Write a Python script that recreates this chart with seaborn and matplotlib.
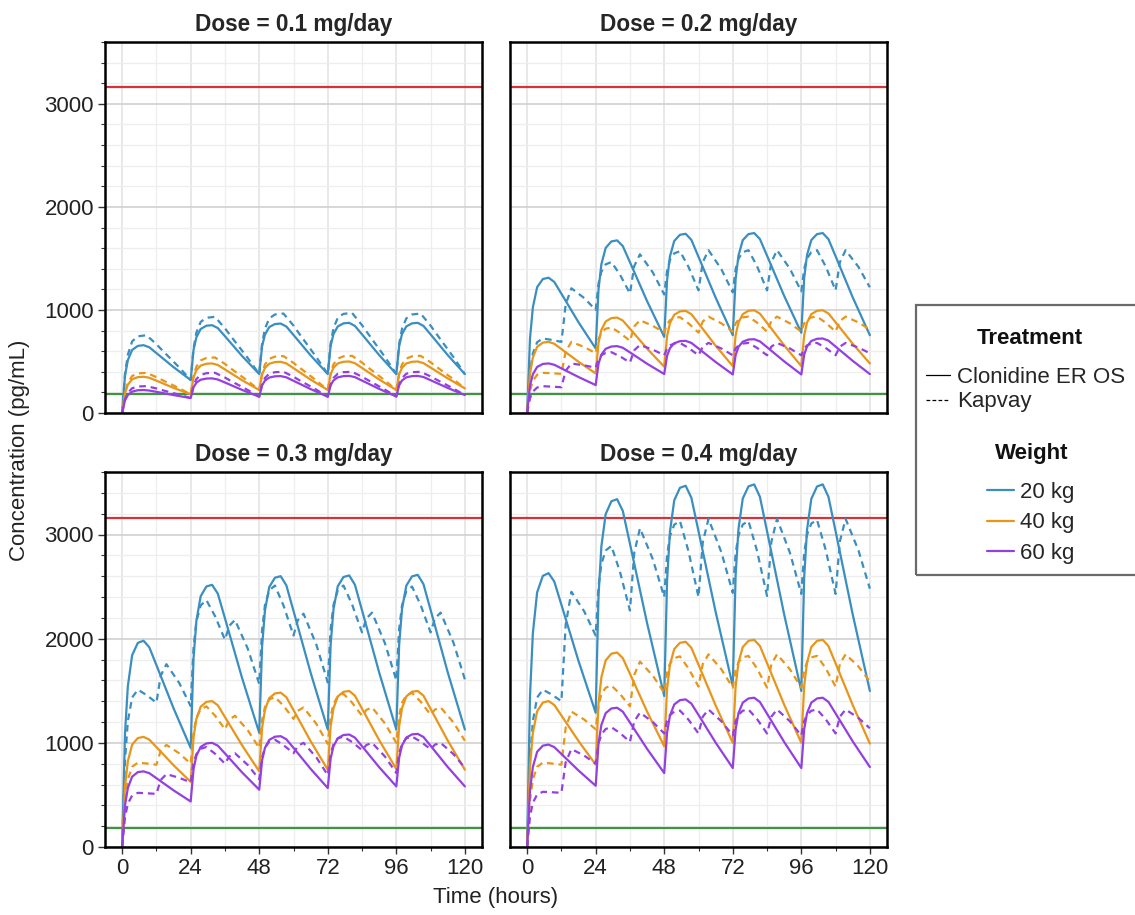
import matplotlib
matplotlib.use("Agg")
import matplotlib.pyplot as plt
from matplotlib.lines import Line2D
from matplotlib.patches import Rectangle
from matplotlib.ticker import MultipleLocator
import pandas as pd
import seaborn as sns

# ---------------- data ----------------
doses = ["0.1", "0.2", "0.3", "0.4"]
weights = ["20 kg", "40 kg", "60 kg"]
treatments = ["Clonidine ER OS", "Kapvay"]
x_ticks = [0, 24, 48, 72, 96, 120]
y_ticks = [0, 1000, 2000, 3000]
upper_limit = 3160
lower_limit = 180

time_er = [0, 1, 2, 3.5, 5.5, 7.5, 9.5, 12.5, 18,
           24, 25, 26, 27.5, 29.5, 31.5, 33.5, 36.5, 42,
           48, 49, 50, 51.5, 53.5, 55.5, 57.5, 60.5, 66,
           72, 73, 74, 75.5, 77.5, 79.5, 81.5, 84.5, 90,
           96, 97, 98, 99.5, 101.5, 103.5, 105.5, 108.5, 114,
           120]
time_kap = [0, 1, 2, 3.5, 5.5, 8.5, 12, 13.5, 15.5, 20,
            24, 25, 26, 27.5, 29.5, 32.5, 36, 37.5, 39.5, 44,
            48, 49, 50, 51.5, 53.5, 56.5, 60, 61.5, 63.5, 68,
            72, 73, 74, 75.5, 77.5, 80.5, 84, 85.5, 87.5, 92,
            96, 97, 98, 99.5, 101.5, 104.5, 108, 109.5, 111.5, 116,
            120]

# Dose 0.1 mg/day
er_01_20 = [0, 362, 513, 612, 651, 658, 638, 570, 445, 320, 613, 735, 815, 847, 852, 824, 729, 553,
            378, 648, 760, 834, 863, 868, 839, 741, 559, 378, 651, 766, 840, 870, 875, 845, 746, 562,
            378, 651, 766, 840, 870, 875, 845, 746, 562, 378]
er_01_40 = [0, 194, 275, 327, 348, 352, 342, 308, 244, 181, 346, 415, 460, 478, 481, 466, 414, 318,
            223, 374, 437, 478, 494, 497, 481, 426, 324, 223, 375, 439, 481, 497, 500, 483, 428, 325,
            223, 375, 439, 481, 497, 500, 484, 432, 336, 239]
er_01_60 = [0, 123, 174, 207, 221, 223, 218, 203, 174, 145, 250, 294, 323, 334, 336, 325, 290, 224,
            158, 268, 314, 344, 356, 358, 346, 306, 232, 158, 269, 316, 346, 358, 360, 348, 308, 234,
            160, 270, 316, 346, 358, 360, 349, 312, 243, 174]
kap_01_20 = [0, 378, 566, 695, 744, 755, 668, 624, 568, 442, 320, 627, 780, 884, 924, 933, 822, 766, 694, 533,
             378, 672, 818, 918, 956, 965, 848, 789, 713, 542, 378, 675, 823, 924, 962, 971, 852, 793, 716, 544,
             378, 672, 818, 918, 956, 965, 848, 789, 713, 542, 378]
kap_01_40 = [0, 195, 293, 359, 384, 390, 348, 327, 300, 240, 181, 360, 450, 510, 534, 539, 476, 444, 403, 311,
             223, 388, 470, 526, 547, 552, 486, 453, 411, 315, 223, 389, 472, 528, 550, 555, 489, 455, 412, 316,
             223, 389, 472, 528, 550, 555, 492, 460, 419, 327, 239]
kap_01_60 = [0, 131, 196, 240, 257, 261, 238, 226, 211, 177, 145, 268, 329, 370, 386, 390, 344, 320, 290, 223,
             158, 279, 340, 381, 396, 400, 352, 327, 296, 226, 158, 279, 340, 381, 396, 400, 352, 328, 297, 227,
             160, 280, 340, 381, 396, 400, 355, 332, 303, 237, 174]

# Dose 0.2 mg/day
er_02_20 = [0, 722, 1024, 1221, 1300, 1313, 1272, 1134, 880, 626, 1203, 1444, 1602, 1665, 1675, 1619, 1432, 1085,
            739, 1289, 1519, 1669, 1729, 1739, 1680, 1483, 1119, 755, 1300, 1528, 1677, 1736, 1746, 1688, 1494, 1136,
            778, 1310, 1533, 1678, 1736, 1746, 1687, 1488, 1122, 755]
er_02_40 = [0, 380, 538, 642, 683, 690, 672, 610, 497, 384, 682, 807, 888, 921, 926, 897, 802, 625,
            449, 747, 872, 953, 986, 991, 959, 852, 653, 455, 753, 878, 959, 992, 997, 964, 856, 656,
            455, 753, 878, 959, 992, 997, 966, 863, 672, 481]
er_02_60 = [0, 265, 375, 447, 476, 481, 468, 426, 349, 271, 479, 566, 623, 645, 649, 633, 579, 478,
            378, 555, 629, 677, 697, 700, 680, 615, 495, 374, 562, 641, 692, 713, 716, 695, 627, 501,
            374, 566, 646, 699, 720, 723, 702, 633, 506, 378]
kap_02_20 = [0, 398, 578, 687, 723, 710, 690, 1054, 1210, 1115, 1000, 1256, 1372, 1442, 1465, 1343, 1160, 1426, 1540, 1364,
             1150, 1381, 1486, 1549, 1570, 1418, 1190, 1463, 1580, 1395, 1170, 1396, 1498, 1560, 1580, 1424, 1190, 1463, 1580, 1400,
             1180, 1400, 1500, 1560, 1580, 1424, 1190, 1463, 1580, 1418, 1220]
kap_02_40 = [0, 215, 312, 371, 390, 386, 380, 597, 690, 640, 580, 718, 780, 818, 830, 778, 700, 840, 900, 846,
             780, 863, 900, 923, 930, 870, 780, 889, 935, 870, 790, 870, 906, 928, 935, 877, 790, 892, 935, 870,
             790, 870, 906, 928, 935, 877, 790, 892, 935, 879, 810]
kap_02_60 = [0, 143, 208, 247, 260, 256, 250, 411, 480, 462, 440, 523, 560, 583, 590, 550, 490, 609, 660, 615,
             560, 626, 656, 674, 680, 632, 560, 644, 680, 626, 560, 626, 656, 674, 680, 632, 560, 644, 680, 626,
             560, 626, 656, 674, 680, 632, 560, 644, 680, 635, 580]

# Dose 0.3 mg/day
er_03_20 = [0, 1089, 1544, 1841, 1960, 1980, 1918, 1712, 1332, 951, 1812, 2172, 2407, 2501, 2517, 2432, 2148, 1622,
            1096, 1923, 2269, 2495, 2585, 2600, 2512, 2217, 1673, 1128, 1941, 2282, 2503, 2592, 2607, 2518, 2222, 1675,
            1128, 1945, 2286, 2509, 2598, 2613, 2524, 2227, 1677, 1128]
er_03_40 = [0, 581, 824, 983, 1046, 1057, 1031, 945, 785, 625, 1052, 1230, 1347, 1393, 1401, 1360, 1225, 976,
            726, 1142, 1316, 1429, 1474, 1482, 1438, 1290, 1016, 742, 1158, 1332, 1445, 1490, 1498, 1453, 1303, 1026,
            749, 1161, 1333, 1446, 1491, 1498, 1453, 1301, 1022, 742]
er_03_60 = [0, 399, 566, 675, 719, 726, 709, 651, 544, 437, 747, 876, 961, 994, 1000, 973, 883, 716,
            550, 833, 951, 1028, 1059, 1064, 1034, 935, 750, 566, 849, 967, 1044, 1075, 1080, 1050, 951, 766,
            582, 859, 975, 1051, 1081, 1086, 1056, 955, 768, 582]
kap_03_20 = [0, 831, 1208, 1435, 1510, 1460, 1385, 1644, 1755, 1574, 1353, 1912, 2167, 2319, 2370, 2218, 1990, 2123, 2180, 1903,
             1565, 2085, 2321, 2463, 2510, 2318, 2030, 2177, 2240, 1943, 1580, 2092, 2324, 2464, 2510, 2330, 2060, 2193, 2250, 1957,
             1600, 2095, 2320, 2455, 2500, 2324, 2060, 2193, 2250, 1962, 1610]
kap_03_40 = [0, 446, 648, 770, 810, 802, 790, 923, 980, 899, 800, 1103, 1240, 1323, 1350, 1262, 1130, 1221, 1260, 1120,
             950, 1220, 1342, 1416, 1440, 1356, 1230, 1307, 1340, 1182, 990, 1254, 1374, 1446, 1470, 1386, 1260, 1316, 1340, 1187,
             1000, 1264, 1384, 1456, 1480, 1396, 1270, 1319, 1340, 1196, 1020]
kap_03_60 = [0, 286, 416, 494, 520, 516, 510, 643, 700, 664, 620, 807, 892, 943, 960, 896, 800, 870, 900, 787,
             650, 859, 954, 1011, 1030, 978, 900, 970, 1000, 860, 690, 894, 986, 1042, 1060, 1008, 930, 979, 1000, 869,
             710, 903, 990, 1043, 1060, 1012, 940, 982, 1000, 892, 760]

# Dose 0.4 mg/day
er_04_20 = [0, 1446, 2051, 2445, 2603, 2629, 2549, 2281, 1785, 1289, 2417, 2888, 3196, 3319, 3339, 3226, 2848, 2149,
            1450, 2560, 3024, 3327, 3448, 3468, 3353, 2968, 2257, 1546, 2610, 3055, 3346, 3462, 3481, 3362, 2965, 2232,
            1498, 2589, 3045, 3342, 3461, 3481, 3362, 2965, 2232, 1498]
er_04_40 = [0, 771, 1093, 1303, 1387, 1401, 1364, 1242, 1017, 791, 1383, 1630, 1792, 1856, 1867, 1813, 1633, 1300,
            967, 1519, 1749, 1900, 1960, 1970, 1912, 1718, 1359, 1000, 1544, 1771, 1920, 1979, 1989, 1930, 1732, 1366,
            1000, 1544, 1771, 1920, 1979, 1989, 1929, 1730, 1362, 993]
er_04_60 = [0, 541, 767, 914, 973, 983, 959, 880, 734, 588, 1000, 1172, 1285, 1330, 1337, 1299, 1174, 942,
            710, 1099, 1261, 1368, 1410, 1417, 1377, 1246, 1002, 758, 1129, 1285, 1386, 1426, 1433, 1392, 1257, 1008,
            758, 1129, 1285, 1386, 1426, 1433, 1393, 1260, 1014, 768]
kap_04_20 = [0, 831, 1208, 1435, 1510, 1466, 1400, 2135, 2450, 2261, 2030, 2503, 2718, 2847, 2890, 2642, 2270, 2823, 3060, 2763,
             2400, 2802, 2984, 3094, 3130, 2838, 2400, 2925, 3150, 2830, 2440, 2820, 2992, 3096, 3130, 2842, 2410, 2928, 3150, 2826,
             2430, 2821, 2998, 3105, 3140, 2856, 2430, 2934, 3150, 2848, 2480]
kap_04_40 = [0, 446, 648, 770, 810, 802, 790, 1147, 1300, 1223, 1130, 1361, 1466, 1529, 1550, 1470, 1350, 1651, 1780, 1645,
             1480, 1673, 1760, 1813, 1830, 1714, 1540, 1757, 1850, 1706, 1530, 1698, 1774, 1820, 1835, 1713, 1530, 1754, 1850, 1706,
             1530, 1698, 1774, 1820, 1835, 1717, 1540, 1757, 1850, 1733, 1590]
kap_04_60 = [0, 292, 424, 504, 530, 526, 520, 814, 940, 877, 800, 993, 1080, 1133, 1150, 1094, 1010, 1206, 1290, 1200,
             1090, 1211, 1266, 1299, 1310, 1222, 1090, 1251, 1320, 1207, 1070, 1208, 1270, 1308, 1320, 1228, 1090, 1251, 1320, 1207,
             1070, 1208, 1270, 1308, 1320, 1228, 1090, 1251, 1320, 1239, 1140]

er_series = {
    ("0.1", "20 kg"): er_01_20, ("0.1", "40 kg"): er_01_40, ("0.1", "60 kg"): er_01_60,
    ("0.2", "20 kg"): er_02_20, ("0.2", "40 kg"): er_02_40, ("0.2", "60 kg"): er_02_60,
    ("0.3", "20 kg"): er_03_20, ("0.3", "40 kg"): er_03_40, ("0.3", "60 kg"): er_03_60,
    ("0.4", "20 kg"): er_04_20, ("0.4", "40 kg"): er_04_40, ("0.4", "60 kg"): er_04_60,
}
kap_series = {
    ("0.1", "20 kg"): kap_01_20, ("0.1", "40 kg"): kap_01_40, ("0.1", "60 kg"): kap_01_60,
    ("0.2", "20 kg"): kap_02_20, ("0.2", "40 kg"): kap_02_40, ("0.2", "60 kg"): kap_02_60,
    ("0.3", "20 kg"): kap_03_20, ("0.3", "40 kg"): kap_03_40, ("0.3", "60 kg"): kap_03_60,
    ("0.4", "20 kg"): kap_04_20, ("0.4", "40 kg"): kap_04_40, ("0.4", "60 kg"): kap_04_60,
}

rows = []
for (dose, w), vals in er_series.items():
    for t, v in zip(time_er, vals):
        rows.append({"dose": dose, "weight": w, "treatment": treatments[0], "time": t, "conc": v})
for (dose, w), vals in kap_series.items():
    for t, v in zip(time_kap, vals):
        rows.append({"dose": dose, "weight": w, "treatment": treatments[1], "time": t, "conc": v})
df = pd.DataFrame(rows)

# ---------------- style ----------------
sns.set_style("white")
plt.rcParams["font.family"] = ["Liberation Sans", "DejaVu Sans"]
plt.rcParams["font.size"] = 16
plt.rcParams["xtick.bottom"] = True
plt.rcParams["ytick.left"] = True

palette = {"20 kg": "#3a8ec0", "40 kg": "#e8961a", "60 kg": "#9440e0"}
dash_map = {"Clonidine ER OS": "", "Kapvay": (3, 2.2)}

W, H = 1135, 915
fig = plt.figure(figsize=(W / 100, H / 100), dpi=100)


def fbox(x0, y0, x1, y1):
    return [x0 / W, 1 - y1 / H, (x1 - x0) / W, (y1 - y0) / H]


panel_boxes = [fbox(105, 42, 482, 413), fbox(510, 42, 887, 413),
               fbox(105, 472, 482, 847), fbox(510, 472, 887, 847)]

for i, dose in enumerate(doses):
    ax = fig.add_axes(panel_boxes[i])
    ax.set_axisbelow(True)
    ax.set_xlim(-6, 126)
    ax.set_ylim(0, 3600)
    ax.set_xticks(x_ticks)
    ax.set_yticks(y_ticks)
    ax.xaxis.set_minor_locator(MultipleLocator(12))
    ax.yaxis.set_minor_locator(MultipleLocator(200))
    ax.grid(which="major", axis="y", color="#d4d4d4", lw=1.3)
    ax.grid(which="major", axis="x", color="#e2e2e2", lw=1.1)
    ax.grid(which="minor", color="#eeeeee", lw=0.9)

    ax.axhline(upper_limit, color="#d8313a", lw=1.6, zorder=1.5)
    ax.axhline(lower_limit, color="#3f943f", lw=1.6, zorder=1.5)

    sub = df[df["dose"] == dose]
    sns.lineplot(data=sub, x="time", y="conc", hue="weight", style="treatment",
                 hue_order=weights, style_order=treatments, palette=palette,
                 dashes=dash_map, lw=1.6, errorbar=None, legend=False, ax=ax)

    ax.set_title(f"Dose = {dose} mg/day", fontweight="bold", fontsize=16.3, pad=8)
    ax.set_xlabel("")
    ax.set_ylabel("")
    for s in ax.spines.values():
        s.set_color("black")
        s.set_linewidth(1.8)
    ax.tick_params(which="major", length=5, width=1.0, color="#333333",
                   labelsize=16, labelcolor="#222222", direction="out", pad=3)
    ax.tick_params(which="minor", length=3, width=0.8, color="#333333", direction="out")
    if i % 2 == 1:
        ax.tick_params(which="both", left=False, labelleft=False)
    if i < 2:
        ax.tick_params(which="both", bottom=False, labelbottom=False)

fig.text(496 / W, 1 - 898 / H, "Time (hours)", ha="center", va="center", fontsize=16, color="#222222")
fig.text(20 / W, 1 - 450 / H, "Concentration (pg/mL)", ha="center", va="center",
         rotation=90, fontsize=16, color="#222222")

# ---------------- legend ----------------
fig.add_artist(Rectangle((916 / W, 1 - 575 / H), (1145 - 916) / W, (575 - 305) / H,
                         transform=fig.transFigure, fill=False, ec="#6a6a6a", lw=1.6))

fig.text(1030 / W, 1 - 339 / H, "Treatment", ha="center", va="center",
         fontsize=16, fontweight="bold", color="#111111")
fig.text(1032 / W, 1 - 454 / H, "Weight", ha="center", va="center",
         fontsize=16, fontweight="bold", color="#111111")

h_tr = [Line2D([], [], color="black", lw=0.9, ls="-"),
        Line2D([], [], color="black", lw=0.9, ls=(0, (3, 1.8)))]
fig.legend(h_tr, treatments, loc="upper left",
           bbox_to_anchor=(926 / W, 1 - 367 / H), frameon=False, fontsize=16,
           handlelength=1.1, handletextpad=0.3, labelspacing=0.15,
           borderpad=0, borderaxespad=0)
h_w = [Line2D([], [], color=palette[w], lw=1.6) for w in weights]
fig.legend(h_w, weights, loc="upper center",
           bbox_to_anchor=(1031 / W, 1 - 482 / H), frameon=False, fontsize=16,
           handlelength=1.2, handletextpad=0.3, labelspacing=0.42,
           borderpad=0, borderaxespad=0)

fig.savefig("out.png", dpi=100)
